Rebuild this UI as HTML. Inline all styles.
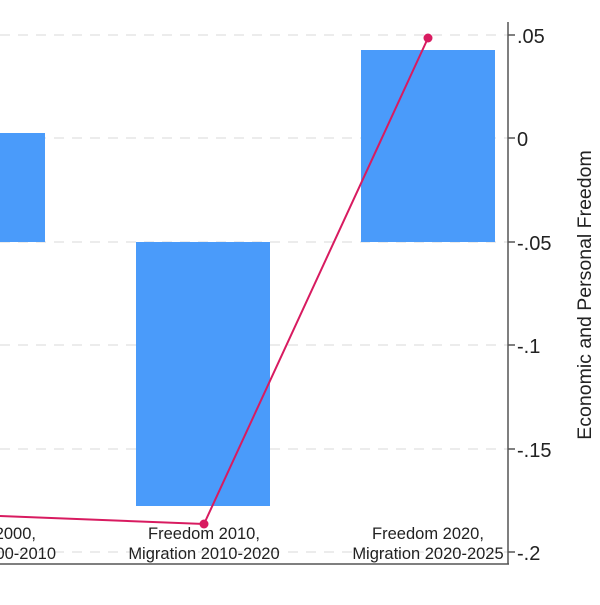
<!DOCTYPE html><html><head><style>body{margin:0;background:#fff}</style></head><body>
<svg width="600" height="600" xmlns="http://www.w3.org/2000/svg" font-family="Liberation Sans, sans-serif">
<g stroke="#e6e6e6" stroke-width="1.5" stroke-dasharray="10,8">
<line x1="0" x2="508" y1="35" y2="35"/><line x1="0" x2="508" y1="138" y2="138"/><line x1="0" x2="508" y1="242" y2="242"/><line x1="0" x2="508" y1="345" y2="345"/><line x1="0" x2="508" y1="449" y2="449"/><line x1="0" x2="508" y1="552" y2="552"/></g>
<rect x="0" y="133" width="45" height="109" fill="#4a9bfa"/>
<rect x="136" y="242" width="134" height="264" fill="#4a9bfa"/>
<rect x="361" y="50" width="134" height="192" fill="#4a9bfa"/>
<polyline points="0,516 204,524 428,38" fill="none" stroke="#d81b60" stroke-width="2"/>
<circle cx="204" cy="524" r="4.5" fill="#d81b60"/><circle cx="428" cy="38" r="4.5" fill="#d81b60"/>
<g font-size="16.5" fill="#222" text-anchor="middle">
<text x="204" y="539">Freedom 2010,</text><text x="204" y="559">Migration 2010-2020</text>
<text x="428" y="539">Freedom 2020,</text><text x="428" y="559">Migration 2020-2025</text></g>
<g font-size="16.5" fill="#222" text-anchor="end"><text x="36" y="539">2000,</text><text x="56" y="559">00-2010</text></g>
<line x1="0" x2="509" y1="564" y2="564" stroke="#555" stroke-width="1.5"/>
<line x1="508" x2="508" y1="22" y2="564" stroke="#555" stroke-width="1.5"/>
<g stroke="#555" stroke-width="1.5"><line x1="508" x2="515" y1="35" y2="35"/><line x1="508" x2="515" y1="138" y2="138"/><line x1="508" x2="515" y1="242" y2="242"/><line x1="508" x2="515" y1="345" y2="345"/><line x1="508" x2="515" y1="449" y2="449"/><line x1="508" x2="515" y1="552" y2="552"/></g>
<g font-size="20" fill="#222"><text x="517" y="43">.05</text><text x="517" y="146">0</text><text x="517" y="250">-.05</text><text x="517" y="353">-.1</text><text x="517" y="457">-.15</text><text x="517" y="560">-.2</text></g>
<text transform="translate(591,295) rotate(-90)" font-size="19.5" fill="#222" text-anchor="middle">Economic and Personal Freedom</text>
</svg></body></html>
